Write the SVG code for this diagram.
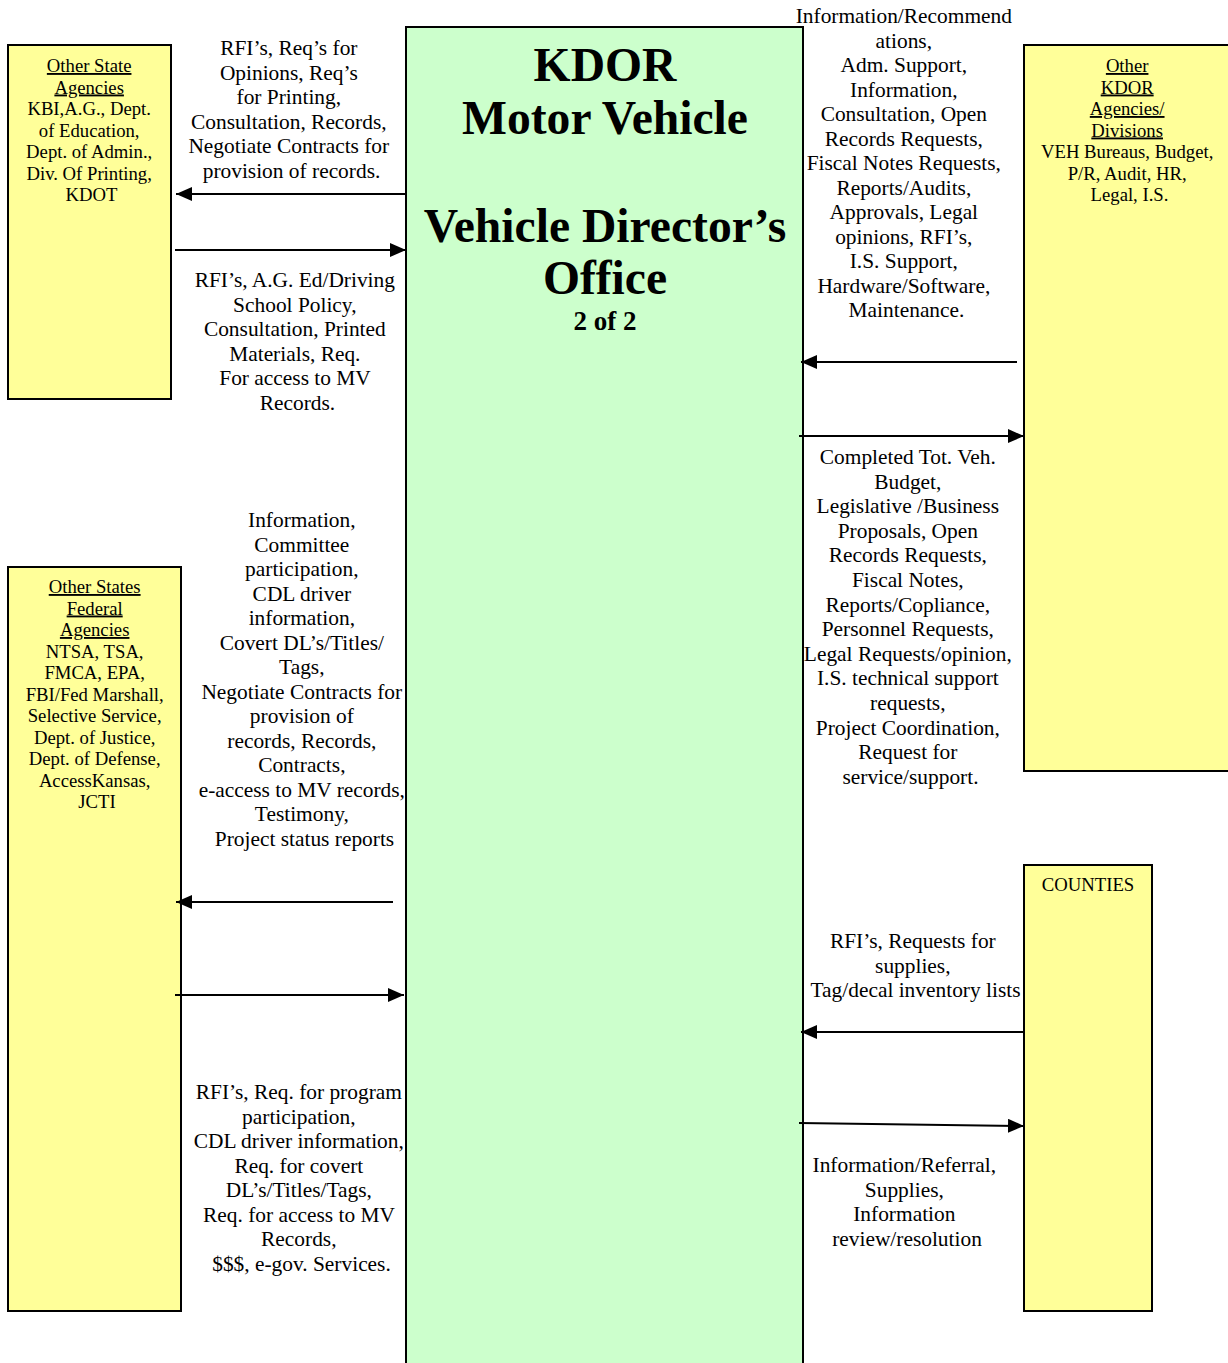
<svg xmlns="http://www.w3.org/2000/svg" width="1228" height="1363" viewBox="0 0 1228 1363">
  <style>
    .box { fill: #FFFF99; stroke: #000; stroke-width: 2; }
    .main { fill: #CCFFCC; stroke: #000; stroke-width: 2; }
    .lbl { font-family: "Liberation Serif", "Times New Roman", serif; font-size: 21.4px; fill: #000; text-anchor: middle; }
    .btx { font-family: "Liberation Serif", "Times New Roman", serif; font-size: 18.7px; fill: #000; text-anchor: middle; }
    .ul { text-decoration: underline; }
    .ttl { font-family: "Liberation Serif", "Times New Roman", serif; font-weight: bold; font-size: 47.6px; fill: #000; text-anchor: middle; }
    .sub { font-family: "Liberation Serif", "Times New Roman", serif; font-weight: bold; font-size: 27px; fill: #000; text-anchor: middle; }
    .arr { stroke: #000; stroke-width: 2; fill: none; marker-end: url(#head); }
  </style>
  <defs>
    <marker id="head" markerUnits="userSpaceOnUse" markerWidth="16" markerHeight="14" refX="16" refY="7" orient="auto">
      <path d="M0,0 L16,7 L0,14 z" fill="#000"/>
    </marker>
  </defs>

  <rect width="1228" height="1363" fill="#fff"/>

  <!-- Central office -->
  <g id="vehicle-directors-office">
    <rect class="main" x="406" y="27" width="397" height="1400"/>
    <text class="ttl" x="605" y="81">KDOR</text>
    <text class="ttl" x="605" y="134">Motor Vehicle</text>
    <text class="ttl" x="605" y="242">Vehicle Director’s</text>
    <text class="ttl" x="605" y="294">Office</text>
    <text class="sub" x="605" y="330">2 of 2</text>
  </g>

  <!-- Other State Agencies -->
  <g id="other-state-agencies">
    <rect class="box" x="8" y="45" width="163" height="354"/>
    <text class="btx">
      <tspan class="ul" x="91.5" y="72">Other State</tspan>
      <tspan class="ul" x="91.5" y="93.5">Agencies</tspan>
      <tspan x="91.5" y="115">KBI,A.G., Dept.</tspan>
      <tspan x="91.5" y="136.5">of Education,</tspan>
      <tspan x="91.5" y="158">Dept. of Admin.,</tspan>
      <tspan x="91.5" y="179.5">Div. Of Printing,</tspan>
      <tspan x="91.5" y="201">KDOT</tspan>
    </text>
  </g>

  <!-- Other KDOR Agencies / Divisions -->
  <g id="other-kdor-agencies">
    <rect class="box" x="1024" y="45" width="220" height="726"/>
    <text class="btx">
      <tspan class="ul" x="1129.5" y="72">Other</tspan>
      <tspan class="ul" x="1129.5" y="93.5">KDOR</tspan>
      <tspan class="ul" x="1129.5" y="115">Agencies/</tspan>
      <tspan class="ul" x="1129.5" y="136.5">Divisions</tspan>
      <tspan x="1129.5" y="158">VEH Bureaus, Budget,</tspan>
      <tspan x="1129.5" y="179.5">P/R, Audit, HR,</tspan>
      <tspan x="1129.5" y="201">Legal, I.S.</tspan>
    </text>
  </g>

  <!-- Other States / Federal Agencies -->
  <g id="federal-agencies">
    <rect class="box" x="8" y="567" width="173" height="744"/>
    <text class="btx">
      <tspan class="ul" x="97" y="593">Other States</tspan>
      <tspan class="ul" x="97" y="614.5">Federal</tspan>
      <tspan class="ul" x="97" y="636">Agencies</tspan>
      <tspan x="97" y="657.5">NTSA, TSA,</tspan>
      <tspan x="97" y="679">FMCA, EPA,</tspan>
      <tspan x="97" y="700.5">FBI/Fed Marshall,</tspan>
      <tspan x="97" y="722">Selective Service,</tspan>
      <tspan x="97" y="743.5">Dept. of Justice,</tspan>
      <tspan x="97" y="765">Dept. of Defense,</tspan>
      <tspan x="97" y="786.5">AccessKansas,</tspan>
      <tspan x="97" y="808">JCTI</tspan>
    </text>
  </g>

  <!-- Counties -->
  <g id="counties">
    <rect class="box" x="1024" y="865" width="128" height="446"/>
    <text class="btx" x="1088" y="891">COUNTIES</text>
  </g>

  <!-- Flow arrows -->
  <g id="connectors">
    <line class="arr" x1="406" y1="194" x2="176" y2="194"/>
    <line class="arr" x1="175" y1="250" x2="406" y2="250"/>
    <line class="arr" x1="1017" y1="362" x2="801" y2="362"/>
    <line class="arr" x1="799" y1="436" x2="1024" y2="436"/>
    <line class="arr" x1="393" y1="902" x2="176" y2="902"/>
    <line class="arr" x1="175" y1="995" x2="404" y2="995"/>
    <line class="arr" x1="1024" y1="1032" x2="801" y2="1032"/>
    <line class="arr" x1="799" y1="1123" x2="1024" y2="1126"/>
  </g>

  <!-- Flow labels -->
  <g id="labels">
    <text class="lbl">
      <tspan x="291.5" y="55">RFI’s, Req’s for</tspan>
      <tspan x="291.5" y="79.5">Opinions, Req’s</tspan>
      <tspan x="291.5" y="104">for Printing,</tspan>
      <tspan x="291.5" y="128.5">Consultation, Records,</tspan>
      <tspan x="291.5" y="153">Negotiate Contracts for</tspan>
      <tspan x="291.5" y="177.5">provision of records.</tspan>
    </text>
    <text class="lbl">
      <tspan x="297.5" y="287">RFI’s, A.G. Ed/Driving</tspan>
      <tspan x="297.5" y="311.5">School Policy,</tspan>
      <tspan x="297.5" y="336">Consultation, Printed</tspan>
      <tspan x="297.5" y="360.5">Materials, Req.</tspan>
      <tspan x="297.5" y="385">For access to MV</tspan>
      <tspan x="297.5" y="409.5">Records.</tspan>
    </text>
    <text class="lbl">
      <tspan x="906.5" y="23">Information/Recommend</tspan>
      <tspan x="906.5" y="47.5">ations,</tspan>
      <tspan x="906.5" y="72">Adm. Support,</tspan>
      <tspan x="906.5" y="96.5">Information,</tspan>
      <tspan x="906.5" y="121">Consultation, Open</tspan>
      <tspan x="906.5" y="145.5">Records Requests,</tspan>
      <tspan x="906.5" y="170">Fiscal Notes Requests,</tspan>
      <tspan x="906.5" y="194.5">Reports/Audits,</tspan>
      <tspan x="906.5" y="219">Approvals, Legal</tspan>
      <tspan x="906.5" y="243.5">opinions, RFI’s,</tspan>
      <tspan x="906.5" y="268">I.S. Support,</tspan>
      <tspan x="906.5" y="292.5">Hardware/Software,</tspan>
      <tspan x="906.5" y="317">Maintenance.</tspan>
    </text>
    <text class="lbl">
      <tspan x="910.5" y="464">Completed Tot. Veh.</tspan>
      <tspan x="910.5" y="488.6">Budget,</tspan>
      <tspan x="910.5" y="513.2">Legislative /Business</tspan>
      <tspan x="910.5" y="537.8">Proposals, Open</tspan>
      <tspan x="910.5" y="562.4">Records Requests,</tspan>
      <tspan x="910.5" y="587">Fiscal Notes,</tspan>
      <tspan x="910.5" y="611.6">Reports/Copliance,</tspan>
      <tspan x="910.5" y="636.2">Personnel Requests,</tspan>
      <tspan x="910.5" y="660.8">Legal Requests/opinion,</tspan>
      <tspan x="910.5" y="685.4">I.S. technical support</tspan>
      <tspan x="910.5" y="710">requests,</tspan>
      <tspan x="910.5" y="734.6">Project Coordination,</tspan>
      <tspan x="910.5" y="759.2">Request for</tspan>
      <tspan x="910.5" y="783.8">service/support.</tspan>
    </text>
    <text class="lbl">
      <tspan x="304.5" y="527">Information,</tspan>
      <tspan x="304.5" y="551.5">Committee</tspan>
      <tspan x="304.5" y="576">participation,</tspan>
      <tspan x="304.5" y="600.5">CDL driver</tspan>
      <tspan x="304.5" y="625">information,</tspan>
      <tspan x="304.5" y="649.5">Covert DL’s/Titles/</tspan>
      <tspan x="304.5" y="674">Tags,</tspan>
      <tspan x="304.5" y="698.5">Negotiate Contracts for</tspan>
      <tspan x="304.5" y="723">provision of</tspan>
      <tspan x="304.5" y="747.5">records, Records,</tspan>
      <tspan x="304.5" y="772">Contracts,</tspan>
      <tspan x="304.5" y="796.5">e-access to MV records,</tspan>
      <tspan x="304.5" y="821">Testimony,</tspan>
      <tspan x="304.5" y="845.5">Project status reports</tspan>
    </text>
    <text class="lbl">
      <tspan x="301.5" y="1099">RFI’s, Req. for program</tspan>
      <tspan x="301.5" y="1123.5">participation,</tspan>
      <tspan x="301.5" y="1148">CDL driver information,</tspan>
      <tspan x="301.5" y="1172.5">Req. for covert</tspan>
      <tspan x="301.5" y="1197">DL’s/Titles/Tags,</tspan>
      <tspan x="301.5" y="1221.5">Req. for access to MV</tspan>
      <tspan x="301.5" y="1246">Records,</tspan>
      <tspan x="301.5" y="1270.5">$$$, e-gov. Services.</tspan>
    </text>
    <text class="lbl">
      <tspan x="915.5" y="948">RFI’s, Requests for</tspan>
      <tspan x="915.5" y="972.5">supplies,</tspan>
      <tspan x="915.5" y="997">Tag/decal inventory lists</tspan>
    </text>
    <text class="lbl">
      <tspan x="907" y="1172">Information/Referral,</tspan>
      <tspan x="907" y="1196.5">Supplies,</tspan>
      <tspan x="907" y="1221">Information</tspan>
      <tspan x="907" y="1245.5">review/resolution</tspan>
    </text>
  </g>
</svg>
